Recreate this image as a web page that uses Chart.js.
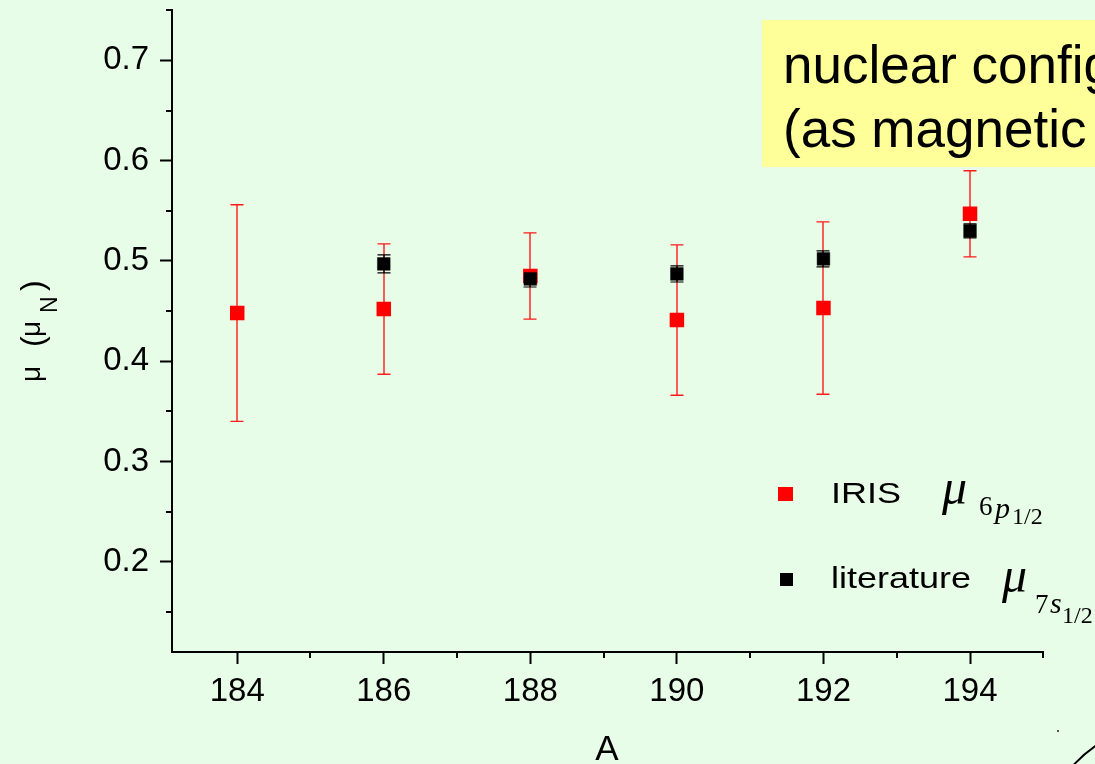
<!DOCTYPE html>
<html><head><meta charset="utf-8">
<script src="https://cdn.jsdelivr.net/npm/chart.js@4"></script>
<style>html,body{margin:0;padding:0;background:#e8fde8;}#wrap{width:1095px;height:764px;position:relative;}</style>
</head><body><div id="wrap"><canvas id="c"></canvas></div>
<script>
const irisMass = [184, 186, 188, 190, 192, 194];
const irisValues = [0.448, 0.452, 0.485, 0.441, 0.453, 0.547];
const irisErrors = [0.108, 0.065, 0.043, 0.075, 0.086, 0.043];
const litMass = [186, 188, 190, 192, 194];
const litValues = [0.497, 0.482, 0.487, 0.502, 0.530];
const litErrors = [0.009, 0.008, 0.008, 0.008, 0.007];
const xTickValues = [184, 186, 188, 190, 192, 194];
const xMinorTicks = [185, 187, 189, 191, 193, 195];
const yTickValues = [0.2, 0.3, 0.4, 0.5, 0.6, 0.7];
const yMinorTicks = [0.15, 0.25, 0.35, 0.45, 0.55, 0.65, 0.75];

const BG = '#e8fde8';
const SANS = '"Liberation Sans", Arial, sans-serif';
const SERIF = '"Liberation Serif", "Times New Roman", serif';

const bgPlugin = {
  id: 'bg',
  beforeDraw(chart) {
    const ctx = chart.ctx;
    ctx.save(); ctx.fillStyle = BG; ctx.fillRect(0, 0, chart.width, chart.height); ctx.restore();
  }
};

const errorBars = {
  id: 'errorBars',
  beforeDatasetsDraw(chart) {
    const ctx = chart.ctx, xs = chart.scales.x, ys = chart.scales.y;
    for (let i = chart.data.datasets.length - 1; i >= 0; i--) {
      const ds = chart.data.datasets[i];
      ctx.save();
      ctx.strokeStyle = ds.errorColor; ctx.lineWidth = ds.errorWidth;
      ds.data.forEach((p, j) => {
        const e = ds.errors[j];
        const px = Math.round(xs.getPixelForValue(p.x));
        const top = ys.getPixelForValue(p.y + e);
        const bot = ys.getPixelForValue(p.y - e);
        ctx.beginPath();
        ctx.moveTo(px, top); ctx.lineTo(px, bot);
        ctx.moveTo(px - 6.5, top); ctx.lineTo(px + 6.5, top);
        ctx.moveTo(px - 6.5, bot); ctx.lineTo(px + 6.5, bot);
        ctx.stroke();
      });
      ctx.restore();
    }
  }
};

const decor = {
  id: 'decor',
  afterDraw(chart) {
    const ctx = chart.ctx, xs = chart.scales.x, ys = chart.scales.y;
    const ca = chart.chartArea;
    ctx.save();
    // minor ticks
    ctx.strokeStyle = '#000'; ctx.lineWidth = 2;
    ctx.beginPath();
    xMinorTicks.forEach(v => { const px = Math.round(xs.getPixelForValue(v)); ctx.moveTo(px, ca.bottom); ctx.lineTo(px, ca.bottom + 6); });
    yMinorTicks.forEach(v => { const py = Math.round(ys.getPixelForValue(v)); ctx.moveTo(ca.left, py); ctx.lineTo(ca.left - 6, py); });
    ctx.stroke();

    // legend
    ctx.fillStyle = '#ff0000'; ctx.fillRect(778, 487, 15, 14);
    ctx.fillStyle = '#000'; ctx.fillRect(780, 573, 13, 13);
    ctx.fillStyle = '#000';
    ctx.textAlign = 'left'; ctx.textBaseline = 'alphabetic';
    [['IRIS', 831, 503], ['literature', 831, 588]].forEach(([t, x, y]) => {
      ctx.save(); ctx.translate(x, y); ctx.scale(1.2, 1); ctx.font = '30px ' + SANS; ctx.fillText(t, 0, 0); ctx.restore();
    });
    ctx.font = 'italic 50px ' + SERIF; ctx.fillText('μ', 942, 504);
    ctx.font = '27px ' + SERIF; ctx.fillText('6', 979, 515);
    ctx.font = 'italic 30px ' + SERIF; ctx.fillText('p', 995, 518);
    ctx.font = '24px ' + SERIF; ctx.fillText('1/2', 1012, 524);
    ctx.font = 'italic 50px ' + SERIF; ctx.fillText('μ', 1002, 592);
    ctx.font = '27px ' + SERIF; ctx.fillText('7', 1035, 613);
    ctx.font = 'italic 30px ' + SERIF; ctx.fillText('s', 1050, 613);
    ctx.font = '24px ' + SERIF; ctx.fillText('1/2', 1062, 623);

    // yellow note box
    ctx.fillStyle = '#ffff99'; ctx.fillRect(762, 20, 340, 147);
    ctx.fillStyle = '#000'; ctx.font = '53px ' + SANS;
    ctx.fillText('nuclear configuration', 783, 83);
    ctx.fillText('(as magnetic moments)', 783, 147);

    // y axis title
    ctx.save();
    ctx.translate(40, 382); ctx.rotate(-Math.PI / 2);
    ctx.font = '28px ' + SANS;
    ctx.fillText('μ', 0, 0);
    ctx.font = '32px ' + SANS;
    ctx.fillText('(', 35, 3);
    ctx.font = '28px ' + SANS;
    ctx.fillText('μ', 45, 0);
    ctx.font = '23px ' + SANS; ctx.fillText('N', 69, 17);
    ctx.font = '32px ' + SANS; ctx.fillText(')', 91, 3);
    ctx.restore();

    // x axis title
    ctx.textAlign = 'center'; ctx.font = '35px ' + SANS;
    ctx.fillText('A', 607, 760);

    // decoration at bottom-right
    ctx.strokeStyle = '#000'; ctx.lineWidth = 2;
    ctx.beginPath(); ctx.arc(1175, 860, 139, -2.45, -2.1); ctx.stroke();
    ctx.fillStyle = '#555'; ctx.fillRect(1057, 730, 2, 2);
    ctx.restore();
  }
};

new Chart(document.getElementById('c'), {
  type: 'scatter',
  data: {
    datasets: [
      {
        label: 'literature',
        data: litMass.map((m, i) => ({ x: m, y: litValues[i] })),
        errors: litErrors, errorColor: '#000', errorWidth: 1.2,
        pointStyle: 'rect', pointRadius: 9, backgroundColor: '#000',
        borderColor: 'rgba(0,0,0,0.45)', borderWidth: 1
      },
      {
        label: 'IRIS',
        data: irisMass.map((m, i) => ({ x: m, y: irisValues[i] })),
        errors: irisErrors, errorColor: '#ff1a1a', errorWidth: 1.4,
        pointStyle: 'rect', pointRadius: 10.25, backgroundColor: '#ff0000',
        borderColor: '#ff0000', borderWidth: 0
      }
    ]
  },
  options: {
    responsive: true, maintainAspectRatio: false, animation: false, events: [],
    layout: { padding: { top: 10, right: 51.7, left: 0, bottom: 0 } },
    plugins: { legend: { display: false }, tooltip: { enabled: false } },
    scales: {
      x: {
        type: 'linear', min: 183.11, max: 195,
        afterFit(s) { s.height = 112; s.paddingLeft = 0; s.paddingRight = 0; },
        afterBuildTicks(s) { s.ticks = xTickValues.map(v => ({ value: v })); },
        ticks: { color: '#000', font: { size: 33, family: SANS }, padding: 8, callback: v => String(v) },
        grid: { drawOnChartArea: false, drawTicks: true, tickLength: 12, tickColor: '#000', tickWidth: 2 },
        border: { display: true, color: '#000', width: 2 }
      },
      y: {
        type: 'linear', min: 0.11, max: 0.75,
        afterFit(s) { s.width = 172; s.paddingTop = 0; s.paddingBottom = 0; },
        afterBuildTicks(s) { s.ticks = yTickValues.map(v => ({ value: v })); },
        ticks: { color: '#000', font: { size: 33, family: SANS }, padding: 11, callback: v => v.toFixed(1) },
        grid: { drawOnChartArea: false, drawTicks: true, tickLength: 12, tickColor: '#000', tickWidth: 2 },
        border: { display: true, color: '#000', width: 2 }
      }
    }
  },
  plugins: [bgPlugin, errorBars, decor]
});
</script>
</body></html>
